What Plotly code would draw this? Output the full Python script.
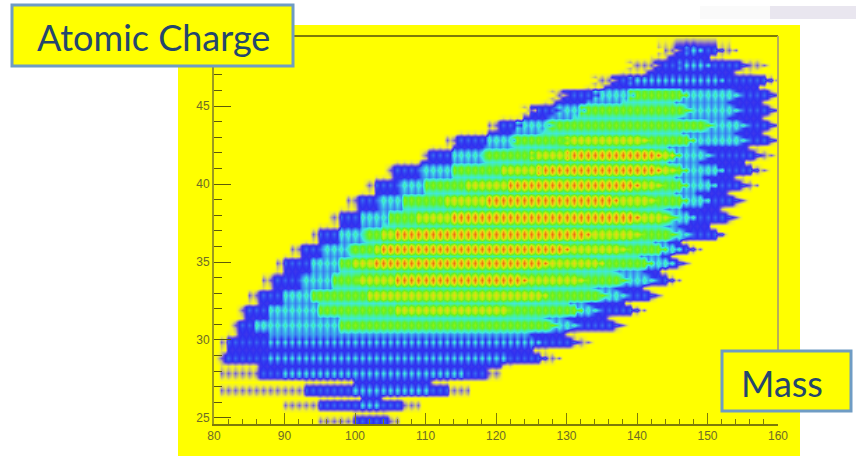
import plotly.graph_objects as go

# Row centres (charge), bottom to top
CHARGE_ROWS = [24.81, 25.83, 26.79, 27.88, 28.85, 29.87, 30.96, 31.92, 32.88, 33.85, 34.94, 35.83,
               36.79, 37.88, 38.97, 39.94, 40.90, 41.86, 42.82, 43.78, 44.74, 45.71, 46.67, 47.63, 48.59]

# For each row, mass where each colour band starts and ends:
# fringe, blue, cyan, green, yellow, orange, orange end, yellow end, green end, cyan end, blue end, fringe end
MASS_EDGES = [
    [95.0, 100.0, 102, 102, 102, 102, 102, 102, 102, 102, 105.0, 106.4],
    [89.8, 95.0, 101, 103, 103, 103, 103, 103, 103, 104, 107.0, 109.2],
    [81.0, 92.6, 100, 105, 105, 105, 105, 105, 105, 111, 113.5, 116.3],
    [81.0, 86.5, 90, 105, 105, 105, 105, 105, 105, 115.5, 119.0, 121.0],
    [80.3, 81.2, 87.2, 110, 110, 110, 110, 110, 110, 122, 127.5, 129.5],
    [80.6, 81.6, 88, 115, 115, 115, 115, 115, 115, 126.7, 131.9, 134],
    [82.2, 83.2, 85.8, 98, 115, 115, 115, 115, 128.7, 131.9, 137.9, 139],
    [83.2, 84.4, 87.9, 94.6, 106, 114, 114, 122, 132.3, 134.8, 140.1, 141.5],
    [85.0, 86.2, 90, 94.0, 102, 115, 115, 127.2, 135.7, 138.6, 142.8, 144],
    [87.0, 88.2, 92.2, 97, 100.3, 106, 125, 132.9, 139, 142.8, 145.1, 146.5],
    [88.9, 90, 94, 98, 99.7, 102.1, 128, 135.2, 142.3, 145.1, 146.8, 148],
    [91.0, 92.2, 95.5, 99.5, 103, 104, 131, 138.6, 144.3, 146.5, 148.5, 149.5],
    [93.6, 94.8, 97.9, 101.5, 104, 106, 134, 141, 145.7, 148, 152.2, 153],
    [96.5, 97.7, 101, 105, 109, 114, 141, 145, 146, 148.5, 153.9, 154.9],
    [99.0, 100.2, 103.5, 107, 113, 119, 137.2, 143, 147.5, 150.4, 155, 156],
    [101.4, 102.6, 106.5, 110, 116, 122, 140.4, 144, 147.5, 151.3, 156, 157.4],
    [104.3, 105.5, 109.5, 114, 121, 127, 143.7, 146, 147.5, 152.2, 157.4, 158.6],
    [109.2, 110.4, 114, 118.5, 126, 131, 143.7, 145.5, 146.1, 150.8, 157.9, 159.6],
    [112.8, 114.4, 118.7, 123, 130.5, 135, 135, 141.8, 148.5, 155.6, 159.6, 161],
    [118.7, 120.4, 123.8, 128.1, 136, 136, 136, 136, 150.8, 155.6, 160, 161],
    [124.1, 126.0, 129.1, 132.9, 140, 140, 140, 140, 147.9, 155, 160, 161],
    [128.1, 130.5, 134.8, 140, 142, 142, 142, 142, 147.5, 154.6, 159.6, 161],
    [134.5, 137.2, 140, 145, 145, 145, 145, 145, 145, 152.2, 159.3, 160.5],
    [139.4, 143.3, 146.5, 148, 148, 148, 148, 148, 148, 150.8, 155.6, 158.9],
    [143.7, 146.5, 147.5, 148.5, 148.5, 148.5, 148.5, 148.5, 148.5, 149.5, 152.2, 154.3],
]

# Rows where the cyan band is only faint dots on blue
FAINT_CYAN_ROWS = [0, 1, 2, 3, 4, 5, 22, 23, 24]
# Rows at the foot of the island, whose gaps fall back to the background
FOOT_ROWS = [1, 2, 3]

# Displayed level by band level (index 0-6): at dots and between dots,
# on a row's centre line, on its shoulder, and between rows
CENTRE_DOT = [0, 1.4, 2.3, 3.3, 4.25, 5.0, 6.0]
CENTRE_GAP = [0, 0.7, 2.0, 2.7, 3.85, 4.3, 4.6]
SHOULDER_DOT = [0, 0.8, 2.1, 3.0, 4.05, 4.6, 5.4]
SHOULDER_GAP = [0, 0.4, 2.0, 2.5, 3.7, 4.0, 4.3]
BETWEEN_DOT = [0, 0.5, 2.0, 2.7, 3.2, 3.4, 3.5]
BETWEEN_GAP = [0, 0.2, 1.9, 2.4, 3.0, 3.2, 3.3]
FAINT_CENTRE = [3.1, 2.1]
FAINT_SHOULDER = [2.5, 2.0]
FAINT_BETWEEN = [2.0, 1.95]
SHOULDER_OFFSET = 0.22
RIGHT_TAPER_SHOULDER = 1.0
RIGHT_TAPER_BETWEEN = 2.0
PEAK_MASS = 122

COLORS = [[0, "#ffff00"], [0.06, "#f0ee30"], [1 / 6, "#a89ca8"], [1.5 / 6, "#6a50d8"], [2 / 6, "#3030f0"],
          [2.5 / 6, "#3c90f0"], [3 / 6, "#40e8e0"], [3.5 / 6, "#48f090"], [4 / 6, "#68f020"],
          [4.5 / 6, "#b0ee10"], [5 / 6, "#e8d818"], [1, "#f06a10"]]

X_TICKS = [80, 90, 100, 110, 120, 130, 140, 150, 160]
Y_TICKS = [25, 30, 35, 40, 45]
Y_LABEL = "Atomic Charge"
X_LABEL = "Mass"

MASSES = [79 + i * 0.5 for i in range(166)]


def band(edges, m):
    s0, b0, c0, g0, y0, o0, o1, y1, g1, c1, b1, s1 = edges
    if o0 <= m < o1:
        return 6
    if y0 <= m < y1:
        return 5
    if g0 <= m < g1:
        return 4
    if c0 <= m < c1:
        return 3
    if b0 <= m < b1:
        return 2
    if s0 <= m < s1:
        return 1
    return 0


def pick(r, lv, dot, normal_dot, normal_gap, faint):
    if lv == 3 and r in FAINT_CYAN_ROWS:
        return faint[0] if dot else faint[1]
    return normal_dot[lv] if dot else normal_gap[lv]


y_grid, z_grid = [CHARGE_ROWS[0] - 0.98], [[0] * len(MASSES)]
for r, charge in enumerate(CHARGE_ROWS):
    edges = MASS_EDGES[r]
    centre, shoulder = [], []
    for m in MASSES:
        dot = m == int(m)
        centre.append(pick(r, band(edges, m), dot, CENTRE_DOT, CENTRE_GAP, FAINT_CENTRE))
        lv = band(edges, m + RIGHT_TAPER_SHOULDER) if m > PEAK_MASS else band(edges, m)
        shoulder.append(pick(r, lv, dot, SHOULDER_DOT, SHOULDER_GAP, FAINT_SHOULDER))
    if r:
        y_grid.append((CHARGE_ROWS[r - 1] + charge) / 2)
        mid = []
        below = MASS_EDGES[r - 1]
        for m in MASSES:
            if r in FOOT_ROWS:
                lv = max(min(band(below, m), band(edges, m)) - 1, 0)
            elif m > PEAK_MASS:
                lv = min(band(below, m + RIGHT_TAPER_BETWEEN), band(edges, m + RIGHT_TAPER_BETWEEN))
            else:
                lv = (band(below, m) + band(edges, m)) // 2
            mid.append(pick(r, lv, m == int(m), BETWEEN_DOT, BETWEEN_GAP, FAINT_BETWEEN))
        z_grid.append(mid)
    y_grid += [charge - SHOULDER_OFFSET, charge, charge + SHOULDER_OFFSET]
    z_grid += [shoulder, centre, shoulder]
y_grid.append(CHARGE_ROWS[-1] + 0.96)
z_grid.append([0] * len(MASSES))

fig = go.Figure(go.Heatmap(x=MASSES, y=y_grid, z=z_grid, zmin=0, zmax=6, zsmooth="best",
                           colorscale=COLORS, showscale=False, hoverinfo="skip"))

W, H = 856, 456
L, R, T, B = 214, 778, 36, 424
PW, PH = R - L, B - T


def qx(x):
    return (x - L) / PW


def qy(y):
    return (B - y) / PH


def rect(x0, y0, x1, y1, fill, line=None, width=0, layer="below"):
    return dict(type="rect", xref="paper", yref="paper", x0=qx(x0), x1=qx(x1), y0=qy(y1), y1=qy(y0),
                fillcolor=fill, line=dict(color=line, width=width) if line else dict(width=0), layer=layer)


def seg(x0, y0, x1, y1, color, width):
    return dict(type="line", xref="paper", yref="paper", x0=qx(x0), x1=qx(x1), y0=qy(y0), y1=qy(y1),
                line=dict(color=color, width=width), layer="above")


shapes = [
    rect(178, 25, 800, 456, "#ffff00"),
    rect(700, 6, 770, 19, "#fafafa"),
    rect(770, 6, 856, 19, "#e9e6ef"),
    seg(214, 36, 778, 36, "#7d7a08", 2),
    seg(778, 36, 778, 351, "#b9ae58", 2),
    rect(12, 5, 293, 66, "#ffff00", "#6f9cc4", 3, "above"),
    rect(722, 351, 851, 411, "#ffff00", "#6f9cc4", 3, "above"),
]

annotations = [
    dict(xref="paper", yref="paper", x=qx(153), y=qy(37), text=Y_LABEL, showarrow=False,
         font=dict(family="Lato", size=36, color="#24466e"), xanchor="center", yanchor="middle"),
    dict(xref="paper", yref="paper", x=qx(782), y=qy(383), text=X_LABEL, showarrow=False,
         font=dict(family="Lato", size=36, color="#24466e"), xanchor="center", yanchor="middle"),
]

fig.update_layout(
    width=W, height=H, margin=dict(l=L, r=W - R, t=T, b=H - B, pad=0),
    paper_bgcolor="#ffffff", plot_bgcolor="#ffff00",
    shapes=shapes, annotations=annotations,
    xaxis=dict(range=[80, 160], tickvals=X_TICKS, ticks="inside", ticklen=11, tickwidth=1, tickcolor="#7d7a08",
               showgrid=False, zeroline=False, showline=True, linecolor="#7d7a08", linewidth=2,
               tickfont=dict(family="Liberation Sans", size=12, color="#6d6b28"),
               minor=dict(dtick=2, ticks="inside", ticklen=5, tickcolor="#7d7a08", tickwidth=1, showgrid=False)),
    yaxis=dict(range=[24.615, 49.487], tickvals=Y_TICKS, ticks="inside", ticklen=17, tickwidth=1, tickcolor="#5d5a08",
               showgrid=False, zeroline=False, showline=True, linecolor="#9c9a20", linewidth=2,
               tickfont=dict(family="Liberation Sans", size=12, color="#6d6b28"),
               minor=dict(dtick=1, ticks="inside", ticklen=8, tickcolor="#5d5a08", tickwidth=1, showgrid=False)),
)

fig.write_html("out.html", config={"displayModeBar": False}, post_script="document.body.style.margin='0';")
